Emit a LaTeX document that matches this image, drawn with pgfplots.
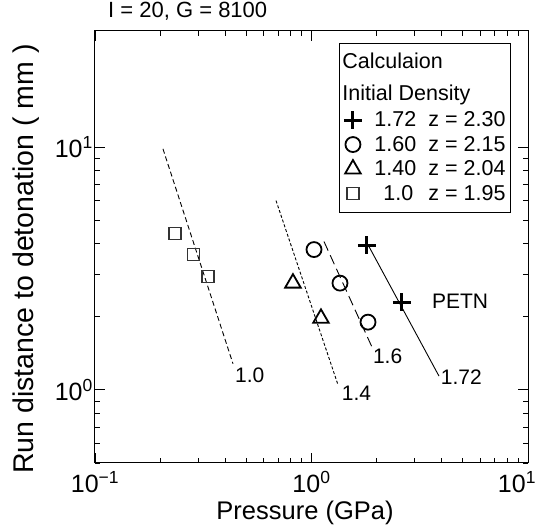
\documentclass[border=0pt]{standalone}
\usepackage{fontspec}
\setmainfont{Liberation Sans}
\usepackage{pgfplots}
\pgfplotsset{compat=1.18}
\pgfplotsset{
  markleg/.style={legend image code/.code={\draw[##1] plot coordinates {(0.3cm,0cm)};\path[draw=none,fill=none] (0cm,-#1) rectangle (0.6cm,#1);}},
  hdrleg/.style 2 args={legend image code/.code={\path[draw=none,fill=none] (0cm,-#2) rectangle (0.6cm,#1);}},
}
\newcommand{\tlab}{\pgfmathtruncatemacro\e{round(\tick)}10\textsuperscript{\ifnum\e<0 −\number-\e\else\e\fi}}
\begin{document}
\begin{tikzpicture}
\begin{loglogaxis}[
  scale only axis,
  width=433pt, height=432pt,
  xmin=0.1, xmax=10, ymin=0.5, ymax=30,
  log basis x=10, log basis y=10,
  tick align=inside,
  major tick length=10pt, minor tick length=5pt,
  every tick/.style={black, line width=0.8pt},
  axis line style={line width=1pt},
  xticklabel={\pgfmathtruncatemacro\ee{round(\tick)}\ifnum\ee=1 \hspace*{-22pt}\fi\tlab},
  yticklabel={\tlab},
  ticklabel style={font=\fontsize{25}{28}\selectfont, inner sep=2pt},
  xticklabel style={yshift=-6pt},
  xlabel={Pressure (GPa)},
  ylabel={Run distance to detonation ( mm )},
  xlabel style={font=\fontsize{25.5}{29}\selectfont, at={(rel axis cs:0.485,-0.116)}, anchor=center},
  ylabel style={font=\fontsize{28.5}{32}\selectfont, at={(rel axis cs:-0.159,0.472)}, anchor=center},
  title={I = 20, G = 8100},
  title style={font=\fontsize{22}{25}\selectfont, at={(rel axis cs:0.03,1)}, anchor=base west, inner sep=0pt, yshift=7pt},
  legend style={at={(rel axis cs:0.5635,0.972)}, anchor=north west, font=\fontsize{21.5}{24}\selectfont, draw=black, line width=0.9pt, row sep=0pt, inner xsep=4.5pt, inner ysep=6.25pt,
    nodes={inner sep=0pt},
    /tikz/every odd column/.append style={column sep=12.5pt}},
  legend cell align=left,
]
\addlegendimage{hdrleg={11.25pt}{13.25pt}}
\addlegendentry{\hspace{-32pt}Calculaion}
\addlegendimage{hdrleg={18.75pt}{14.75pt}}
\addlegendentry{\hspace{-32pt}Initial Density}

\addplot[only marks, mark=+, mark size=9pt, line width=3pt, black, markleg=12.25pt] coordinates {(1.804,3.93) (2.618,2.29)};
\addlegendentry{\makebox[54pt][l]{1.72}z = 2.30}
\addplot[only marks, mark=o, mark size=7.5pt, line width=1.8pt, black, markleg=12.25pt] coordinates {(1.027,3.78) (1.354,2.75) (1.824,1.90)};
\addlegendentry{\makebox[54pt][l]{1.60}z = 2.15}
\addplot[only marks, mark=triangle, mark size=9pt, line width=1.8pt, black, markleg=12.25pt] coordinates {(0.821,2.75) (1.106,1.97)};
\addlegendentry{\makebox[54pt][l]{1.40}z = 2.04}
\addplot[only marks, mark=square, mark size=6pt, line width=1.2pt, black!80, markleg=12.25pt] coordinates {(0.234,4.40) (0.284,3.61) (0.333,2.93)};
\addlegendentry{\makebox[54pt][l]{\hspace{9pt}1.0}z = 1.95}

\addplot[forget plot, black, line width=0.9pt, dash pattern=on 5pt off 3pt] coordinates {(0.206,9.82) (0.434,1.28)};
\addplot[forget plot, black, line width=0.9pt, dash pattern=on 3pt off 2pt] coordinates {(0.686,6.01) (1.326,1.048)};
\addplot[forget plot, black, line width=0.9pt, dash pattern=on 10pt off 5pt] coordinates {(1.142,4.08) (1.903,1.50)};
\addplot[forget plot, black, line width=0.9pt] coordinates {(1.843,3.89) (3.88,1.14)};

\node[font=\fontsize{21}{24}\selectfont, anchor=west, inner sep=0pt] at (axis cs:0.443,1.15) {1.0};
\node[font=\fontsize{21}{24}\selectfont, anchor=west, inner sep=0pt] at (axis cs:1.38,0.97) {1.4};
\node[font=\fontsize{21}{24}\selectfont, anchor=west, inner sep=0pt] at (axis cs:1.92,1.38) {1.6};
\node[font=\fontsize{21}{24}\selectfont, anchor=west, inner sep=0pt] at (axis cs:3.95,1.13) {1.72};
\node[font=\fontsize{21}{24}\selectfont, anchor=west, inner sep=0pt] at (axis cs:3.60,2.32) {PETN};
\end{loglogaxis}
\pgfresetboundingbox
\path ([xshift=-95pt,yshift=-63pt]current axis.south west) rectangle ([xshift=7pt,yshift=31pt]current axis.north east);
\end{tikzpicture}
\end{document}
